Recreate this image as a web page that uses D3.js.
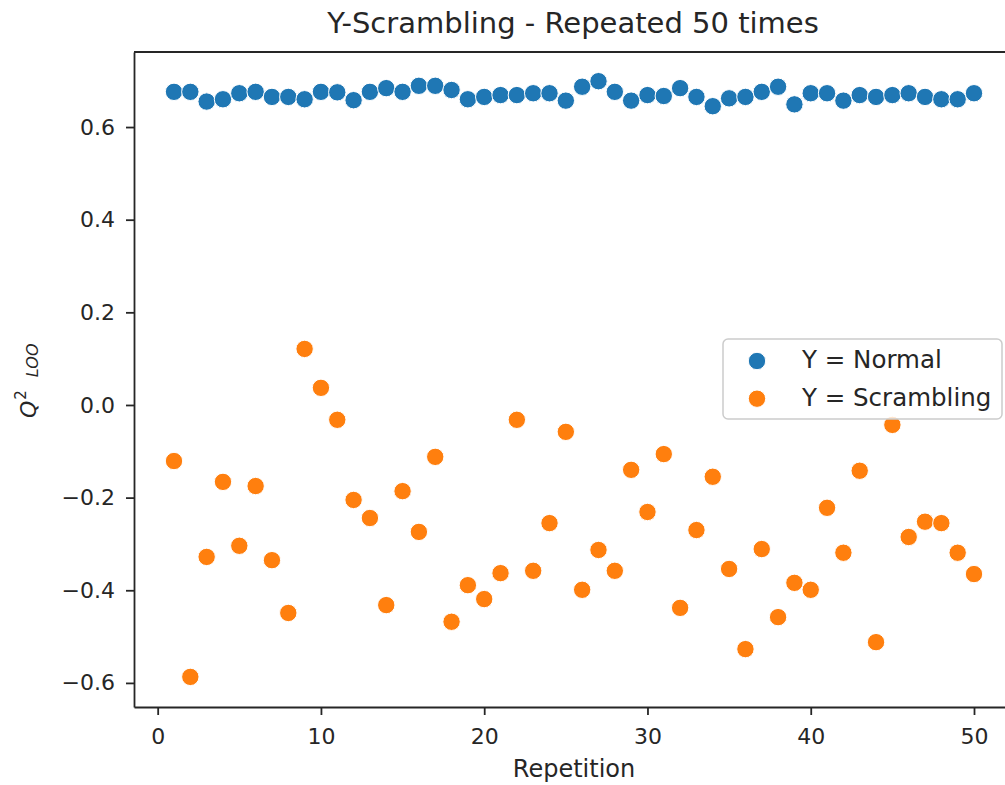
<!DOCTYPE html>
<html>
<head>
<meta charset="utf-8">
<script src="https://cdn.jsdelivr.net/npm/d3@7"></script>
<style>
  body { margin: 0; background: white; }
  text { font-family: "DejaVu Sans", sans-serif; fill: #262626; }
</style>
</head>
<body>
<svg id="chart"></svg>
<script>
// Repetition number (1..50)
var repetitions = [1,2,3,4,5,6,7,8,9,10,11,12,13,14,15,16,17,18,19,20,21,22,23,24,25,
                   26,27,28,29,30,31,32,33,34,35,36,37,38,39,40,41,42,43,44,45,46,47,48,49,50]

// Q2 LOO with normal Y
var normalQ2 = [0.676,0.676,0.655,0.660,0.673,0.676,0.665,0.665,0.660,0.676,
                0.675,0.658,0.676,0.684,0.676,0.689,0.689,0.680,0.660,0.665,
                0.669,0.669,0.673,0.673,0.657,0.687,0.699,0.676,0.657,0.669,
                0.667,0.684,0.665,0.645,0.662,0.665,0.676,0.687,0.649,0.673,
                0.673,0.657,0.669,0.665,0.669,0.673,0.665,0.660,0.660,0.673]

// Q2 LOO with scrambled Y
var scrambledQ2 = [-0.121,-0.587,-0.328,-0.166,-0.304,-0.175,-0.335,-0.449,0.121,0.037,
                   -0.032,-0.205,-0.244,-0.432,-0.186,-0.274,-0.112,-0.468,-0.389,-0.419,
                   -0.363,-0.032,-0.358,-0.255,-0.058,-0.399,-0.313,-0.358,-0.140,-0.231,
                   -0.106,-0.438,-0.270,-0.155,-0.354,-0.527,-0.311,-0.458,-0.384,-0.399,
                   -0.222,-0.319,-0.142,-0.512,-0.043,-0.285,-0.252,-0.255,-0.319,-0.365]

var xTicks = [0, 10, 20, 30, 40, 50]
var yTicks = [-0.6, -0.4, -0.2, 0.0, 0.2, 0.4, 0.6]
var seriesNames = ["Y = Normal", "Y = Scrambling"]
var seriesColors = ["#1f77b4", "#ff7f0e"]

var dimensions = {
    width: 1005,
    height: 785,
    margin: { top: 52, bottom: 78, left: 134, right: -9 }
}

var svg = d3.select("#chart")
            .attr("width", dimensions.width)
            .attr("height", dimensions.height)

var xScale = d3.scaleLinear()
                .domain([-1.45, 52.45])
                .range([dimensions.margin.left, dimensions.width - dimensions.margin.right])

var yScale = d3.scaleLinear()
                .domain([-0.652, 0.762])
                .range([dimensions.height - dimensions.margin.bottom, dimensions.margin.top])

var plotBottom = dimensions.height - dimensions.margin.bottom
var ink = "#262626"

// x axis
var xAxis = svg.append("g")
    .attr("transform", `translate(0,${plotBottom})`)
    .call(d3.axisBottom(xScale).tickValues(xTicks).tickSize(8).tickSizeOuter(0).tickPadding(13)
            .tickFormat(d3.format("d")))
xAxis.selectAll("text").style("font-size", "22px")

// y axis
var yAxis = svg.append("g")
    .attr("transform", `translate(${dimensions.margin.left},0)`)
    .call(d3.axisLeft(yScale).tickValues(yTicks).tickSize(8).tickSizeOuter(0).tickPadding(11)
            .tickFormat(d => d3.format(".1f")(d).replace("-", "\u2212")))
yAxis.selectAll("text").style("font-size", "22px")

svg.selectAll(".domain").attr("stroke", ink).attr("stroke-width", 1.8)
svg.selectAll(".tick line").attr("stroke", ink).attr("stroke-width", 1.8)
svg.selectAll(".tick text").style("fill", ink).style("font-family", "DejaVu Sans")

// top & right spines (right one falls just outside the picture)
svg.append("line")
    .attr("x1", dimensions.margin.left).attr("x2", dimensions.width - dimensions.margin.right)
    .attr("y1", dimensions.margin.top).attr("y2", dimensions.margin.top)
    .attr("stroke", ink).attr("stroke-width", 1.8)
svg.append("line")
    .attr("x1", dimensions.width - dimensions.margin.right).attr("x2", dimensions.width - dimensions.margin.right)
    .attr("y1", dimensions.margin.top).attr("y2", plotBottom)
    .attr("stroke", ink).attr("stroke-width", 1.8)

// points
var series = [normalQ2, scrambledQ2]
series.forEach((values, i) => {
    svg.append("g").selectAll("circle")
        .data(values)
        .enter()
        .append("circle")
        .attr("cx", (d, j) => xScale(repetitions[j]))
        .attr("cy", d => yScale(d))
        .attr("r", 8.7)
        .attr("fill", seriesColors[i])
        .attr("stroke", "white")
        .attr("stroke-width", 1)
})

// legend
var legend = svg.append("g").attr("transform", "translate(723,339)")
legend.append("rect")
    .attr("width", 279).attr("height", 80)
    .attr("rx", 5)
    .attr("fill", "white").attr("fill-opacity", 0.8)
    .attr("stroke", "#cccccc").attr("stroke-width", 1.5)
seriesNames.forEach((name, i) => {
    legend.append("circle")
        .attr("cx", 34).attr("cy", 22 + i * 37.7)
        .attr("r", 8.7)
        .attr("fill", seriesColors[i])
        .attr("stroke", "white").attr("stroke-width", 1)
    legend.append("text")
        .attr("x", 79).attr("y", 29 + i * 37.7)
        .style("font-size", "24.5px")
        .text(name)
})

// title
svg.append("text")
    .attr("x", 573)
    .attr("y", 33)
    .style("text-anchor", "middle")
    .style("font-size", "29px")
    .text("Y-Scrambling - Repeated 50 times")

// x label
svg.append("text")
    .attr("x", 574)
    .attr("y", 777)
    .style("text-anchor", "middle")
    .style("font-size", "24px")
    .text("Repetition")

// y label: Q^2 LOO
var yLabel = svg.append("text")
    .attr("transform", "translate(36,418) rotate(-90)")
    .style("text-anchor", "start")
    .style("font-size", "22px")
yLabel.append("tspan").style("font-style", "italic").text("Q")
yLabel.append("tspan").attr("dy", -10).attr("dx", 1).style("font-size", "15px").text("2")
yLabel.append("tspan").attr("dy", 12).attr("dx", 13).style("font-size", "16px")
    .style("font-style", "italic").text("LOO")
</script>
</body>
</html>
